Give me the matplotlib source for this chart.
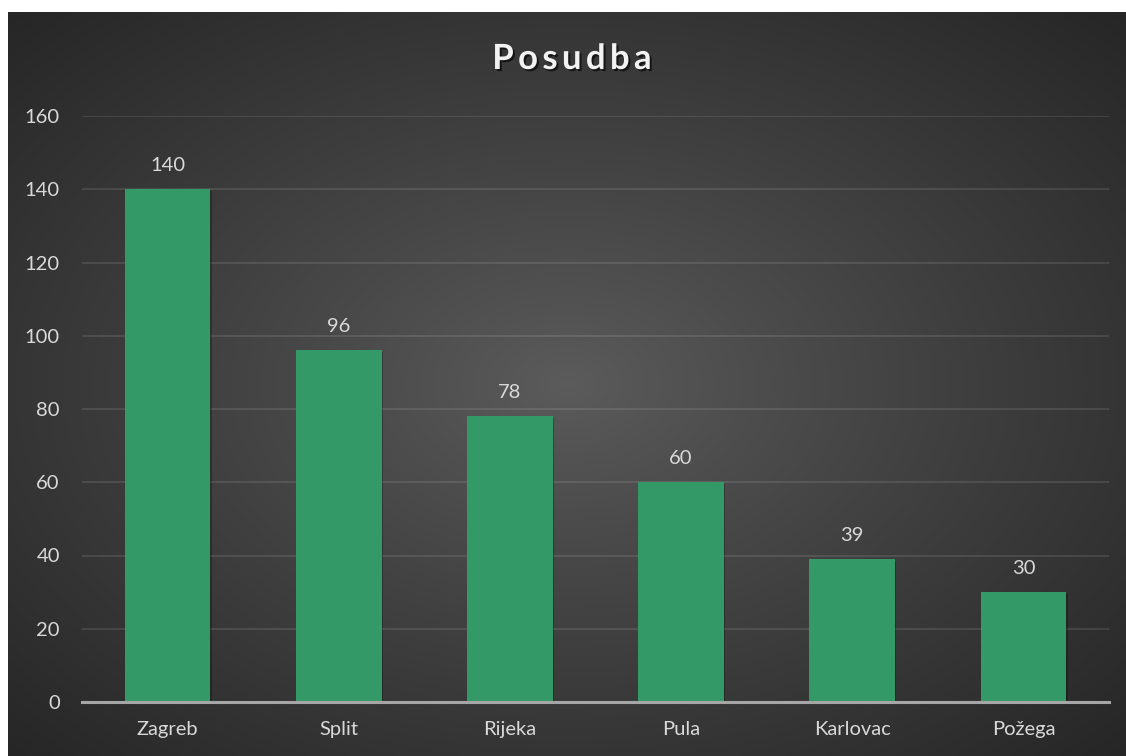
import numpy as np
import matplotlib.pyplot as plt
import matplotlib.patheffects as pe

cities = ["Zagreb", "Split", "Rijeka", "Pula", "Karlovac", "Požega"]
loans = [140, 96, 78, 60, 39, 30]
y_ticks = [0, 20, 40, 60, 80, 100, 120, 140, 160]

plt.rcParams['font.family'] = ['Lato', 'DejaVu Sans']

W, H = 1126, 756
fig = plt.figure(figsize=(W / 100, H / 100), dpi=100, facecolor='white')

# dark radial-gradient panel
bg = fig.add_axes([8 / W, 0, 1 - 8 / W, 1 - 12 / H])
bg.set_axis_off()
gx, gy = np.meshgrid(np.linspace(-1, 1, 400), np.linspace(-1, 1, 270))
r = np.clip(np.sqrt(gx ** 2 + gy ** 2) / np.sqrt(2), 0, 1)
shade = 0.36 - 0.21 * r ** 0.9
bg.imshow(np.dstack([shade] * 3), aspect='auto', extent=(0, 1, 0, 1), interpolation='bicubic')
bg.set_xlim(0, 1)
bg.set_ylim(0, 1)

ax = fig.add_axes([82 / W, 54 / H, (1109 - 82) / W, (702 - 116) / H])
ax.patch.set_alpha(0)

xs = np.arange(len(cities))
bars = ax.bar(xs, loans, width=0.5, color='#339966', zorder=3)
for b in bars:
    b.set_path_effects([pe.SimplePatchShadow(offset=(1, -1), shadow_rgbFace='black', alpha=0.25), pe.Normal()])

for x, v in zip(xs, loans):
    ax.annotate(str(v), (x, v), xytext=(0, 11), textcoords='offset points',
                ha='center', va='bottom', color='#d9d9d9', fontsize=14.5)

ax.set_xlim(-0.5, len(cities) - 0.5)
ax.set_ylim(0, 160)
ax.set_yticks(y_ticks)
ax.set_xticks(xs)
ax.set_xticklabels(cities)
ax.tick_params(axis='both', length=0, colors='#d9d9d9', labelsize=14.5)
ax.tick_params(axis='y', pad=16)
ax.tick_params(axis='x', pad=14)
ax.grid(axis='y', color='white', alpha=0.12, lw=1.2, zorder=0)
for s in ['top', 'right', 'left']:
    ax.spines[s].set_visible(False)
ax.spines['bottom'].set_color('#a6a6a6')
ax.spines['bottom'].set_linewidth(2.2)
ax.spines['bottom'].set_zorder(4)

fig.text(572 / W, 1 - 59 / H, "\u2009".join("Posudba"), ha='center', va='center',
         fontsize=25, fontweight='bold', color='#f2f2f2',
         path_effects=[pe.withSimplePatchShadow(offset=(1.5, -1.5), shadow_rgbFace='black', alpha=0.6)])

fig.savefig('out.png', dpi=100, facecolor='white')
